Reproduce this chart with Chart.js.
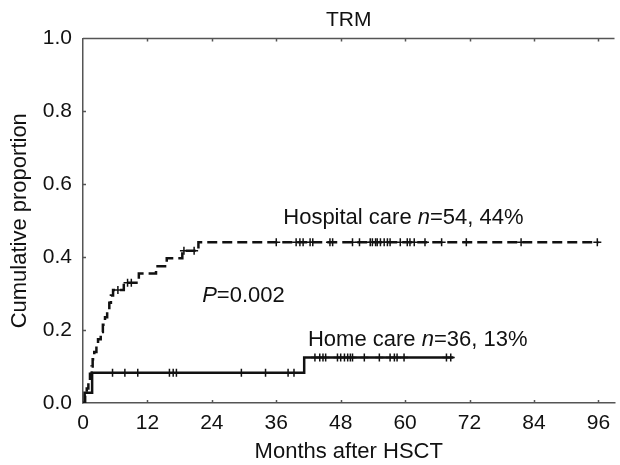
<!DOCTYPE html>
<html>
<head>
<meta charset="utf-8">
<script src="https://cdn.jsdelivr.net/npm/chart.js@4/dist/chart.umd.min.js"></script>
<style>
html,body{margin:0;padding:0;background:#fff;}
canvas{display:block;}
</style>
</head>
<body>
<canvas id="c" width="620" height="465"></canvas>
<script>
// ---- data ----
const chartTitle = "TRM";
const xTitle = "Months after HSCT";
const yTitle = "Cumulative proportion";
const xTicks = [0, 12, 24, 36, 48, 60, 72, 84, 96];
const yTicks = [0, 0.2, 0.4, 0.6, 0.8, 1.0];

const hospitalTimes  = [0, 0.4, 0.7, 1.0, 1.3, 1.6, 1.8, 2.1, 2.5, 2.8, 3.3, 3.7, 4.1, 4.5, 4.9, 5.2, 5.6, 7.6, 10.4, 13.6, 15.6, 18.5, 21.5, 96];
const hospitalValues = [0, 0.02, 0.04, 0.06, 0.08, 0.10, 0.12, 0.14, 0.16, 0.175, 0.195, 0.215, 0.235, 0.255, 0.275, 0.295, 0.31, 0.33, 0.355, 0.375, 0.397, 0.418, 0.441, 0.441];
const hospitalCensored = [6.5, 8.3, 9.0, 18.8, 20.7, 36.0, 39.7, 40.4, 41.0, 42.3, 42.8, 46.0, 46.5, 50.2, 51.5, 53.5, 53.9, 54.5, 54.8, 55.4, 56.1, 56.7, 57.2, 59.1, 60.4, 60.9, 61.7, 63.7, 66.8, 71.4, 81.6, 95.8];

const homeTimes  = [0, 0.3, 1.7, 41.2, 69.0];
const homeValues = [0, 0.028, 0.083, 0.125, 0.125];
const homeCensored = [5.5, 7.8, 10.2, 16.1, 16.8, 17.4, 29.5, 34.0, 38.2, 39.3, 43.2, 44.1, 44.7, 45.2, 47.4, 48.0, 48.7, 49.3, 49.8, 50.2, 52.4, 55.2, 57.2, 58.0, 58.5, 59.8, 67.7, 68.5];

// annotation texts: [before italic, italic, after], anchor (data units, left/middle)
const hospitalLabel = ["Hospital care ", "n", "=54, 44%"];
const hospitalLabelAt = [37.3, 0.508];
const homeLabel = ["Home care ", "n", "=36, 13%"];
const homeLabelAt = [41.9, 0.173];
const pLabel = ["", "P", "=0.002"];
const pLabelAt = [22.2, 0.293];

// ---- helpers ----
function toPoints(ts, vs) { return ts.map((t, i) => ({x: t, y: vs[i]})); }
function stepAt(ts, vs, t) {
  let v = vs[0];
  for (let i = 0; i < ts.length; i++) { if (ts[i] <= t) v = vs[i]; }
  return v;
}
const FONT = "'Liberation Sans', Arial, sans-serif";

const annotPlugin = {
  id: 'annot',
  afterDatasetsDraw(chart) {
    const {ctx, scales: {x, y}} = chart;
    ctx.save();
    ctx.fillStyle = '#111';
    ctx.textBaseline = 'middle';
    ctx.textAlign = 'left';
    const draw = (parts, at) => {
      let px = x.getPixelForValue(at[0]);
      const py = y.getPixelForValue(at[1]);
      parts.forEach((p, i) => {
        if (!p) return;
        ctx.font = (i === 1 ? 'italic ' : '') + '22px ' + FONT;
        ctx.fillText(p, px, py);
        px += ctx.measureText(p).width;
      });
    };
    draw(hospitalLabel, hospitalLabelAt);
    draw(homeLabel, homeLabelAt);
    draw(pLabel, pLabelAt);
    ctx.restore();
  }
};

const framePlugin = {
  id: 'frame',
  afterDraw(chart) {
    const {ctx, chartArea: a, scales: {x, y}} = chart;
    ctx.save();
    ctx.strokeStyle = '#555';
    ctx.lineWidth = 1.5;
    ctx.beginPath();
    ctx.moveTo(a.left, a.top); ctx.lineTo(a.right, a.top);
    xTicks.forEach(v => {
      const px = Math.round(x.getPixelForValue(v)) + 0.5;
      if (v !== 0) {
        ctx.moveTo(px, a.bottom); ctx.lineTo(px, a.bottom - 3);
        ctx.moveTo(px, a.top); ctx.lineTo(px, a.top + 3);
      }
    });
    yTicks.forEach(v => {
      const py = Math.round(y.getPixelForValue(v)) + 0.5;
      if (v !== 0 && v !== 1) { ctx.moveTo(a.left, py); ctx.lineTo(a.left + 3, py); }
    });
    ctx.stroke();
    ctx.restore();
  }
};

new Chart(document.getElementById('c'), {
  type: 'scatter',
  data: {
    datasets: [
      {
        label: 'Hospital care',
        data: toPoints(hospitalTimes, hospitalValues),
        showLine: true, stepped: 'before',
        borderColor: '#111', borderWidth: 2.5, borderDash: [10, 5],
        pointRadius: 0, fill: false
      },
      {
        label: 'Home care',
        data: toPoints(homeTimes, homeValues),
        showLine: true, stepped: 'before',
        borderColor: '#111', borderWidth: 2.5,
        pointRadius: 0, fill: false
      },
      {
        label: 'Hospital censored',
        data: hospitalCensored.map(t => ({x: t, y: stepAt(hospitalTimes, hospitalValues, t)})),
        showLine: false, pointStyle: 'cross', pointRadius: 4,
        borderColor: '#111', borderWidth: 1.5
      },
      {
        label: 'Home censored',
        data: homeCensored.map(t => ({x: t, y: stepAt(homeTimes, homeValues, t)})),
        showLine: false, pointStyle: 'cross', pointRadius: 4,
        borderColor: '#111', borderWidth: 1.5
      }
    ]
  },
  options: {
    responsive: false,
    animation: false,
    devicePixelRatio: 1,
    layout: {padding: {left: 0, right: 0, top: 0, bottom: 0}},
    plugins: {
      legend: {display: false},
      tooltip: {enabled: false},
      title: {
        display: true, text: chartTitle, fullSize: false,
        color: '#111', font: {family: FONT, size: 21, weight: 'normal'},
        padding: {top: 7.4, bottom: 5.9}
      }
    },
    scales: {
      x: {
        type: 'linear', min: 0, max: 99,
        afterBuildTicks: s => { s.ticks = xTicks.map(v => ({value: v})); },
        afterFit: s => { s.height = 62; },
        grid: {display: true, drawOnChartArea: false, drawTicks: false, color: '#555', lineWidth: 1.5},
        border: {display: true, color: '#555', width: 1.5},
        ticks: {color: '#111', padding: 8, font: {family: FONT, size: 21}, maxRotation: 0},
        title: {display: true, text: xTitle, color: '#111', font: {family: FONT, size: 22}, padding: 0}
      },
      y: {
        type: 'linear', min: 0, max: 1,
        afterBuildTicks: s => { s.ticks = yTicks.map(v => ({value: v})); },
        afterFit: s => { s.width = 83; },
        grid: {display: true, drawOnChartArea: false, drawTicks: false, color: '#555', lineWidth: 1.5},
        border: {display: true, color: '#555', width: 1.5},
        ticks: {color: '#111', padding: 11, font: {family: FONT, size: 21}, callback: v => Number(v).toFixed(1)},
        title: {display: true, text: yTitle, color: '#111', font: {family: FONT, size: 22}, padding: 7}
      }
    }
  },
  plugins: [annotPlugin, framePlugin]
});
</script>
</body>
</html>
